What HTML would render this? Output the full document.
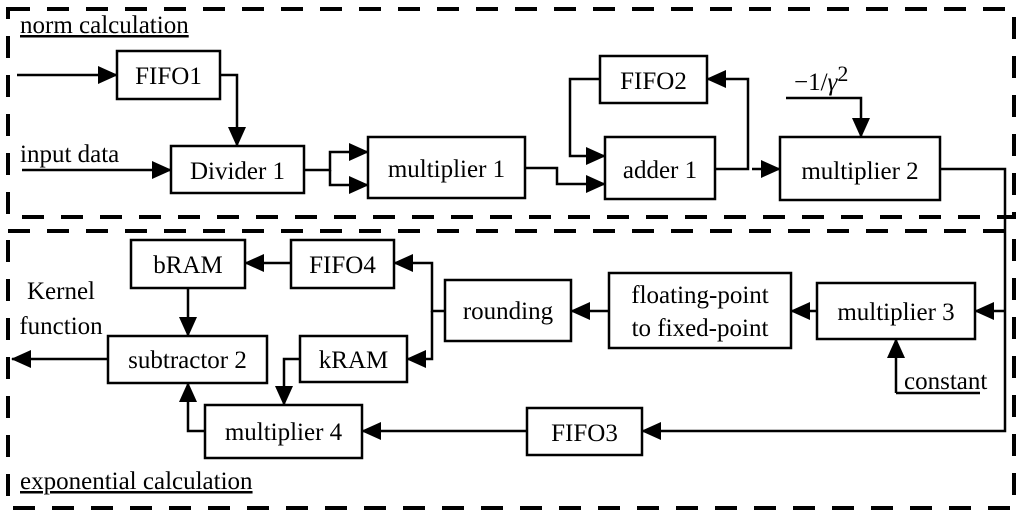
<!DOCTYPE html>
<html><head><meta charset="utf-8"><style>
html,body{margin:0;padding:0;background:#fff}
svg{display:block}
text{font-family:"Liberation Serif","Times New Roman","DejaVu Serif",serif;font-size:25px;fill:#000}
</style></head><body>
<svg width="1024" height="515" viewBox="0 0 1024 515" xmlns="http://www.w3.org/2000/svg" font-family="Liberation Serif, serif">
<defs>
<marker id="a" markerWidth="20" markerHeight="18" refX="19" refY="9" orient="auto" markerUnits="userSpaceOnUse">
<path d="M0,0 L20,9 L0,18 Z" fill="#000"/></marker>
</defs>
<g fill="none" stroke="#000" stroke-width="4" stroke-dasharray="22 17">
<rect x="8" y="9" width="1006" height="208"/>
<rect x="8" y="231" width="1006" height="277"/>
</g>
<g fill="#fff" stroke="#000" stroke-width="2.5">
<rect x="117" y="51" width="103" height="48"/>
<rect x="171" y="146" width="133" height="47"/>
<rect x="368" y="137" width="157" height="61"/>
<rect x="600" y="56" width="107" height="47"/>
<rect x="605" y="137" width="110" height="62"/>
<rect x="780" y="137" width="160" height="63"/>
<rect x="131" y="240" width="114" height="48"/>
<rect x="291" y="240" width="103" height="48"/>
<rect x="445" y="280" width="126" height="61"/>
<rect x="609" y="273" width="182" height="75"/>
<rect x="817" y="283" width="158" height="56"/>
<rect x="300" y="336" width="107" height="46"/>
<rect x="108" y="336" width="159" height="47"/>
<rect x="205" y="405" width="157" height="53"/>
<rect x="527" y="408" width="115" height="47"/>
</g>
<g fill="none" stroke="#000" stroke-width="2.5">
<path d="M17 75 H117" marker-end="url(#a)"/>
<path d="M220 75 H237 V146" marker-end="url(#a)"/>
<path d="M22 170 H171" marker-end="url(#a)"/>
<path d="M304 170 H330 V152 H368" marker-end="url(#a)"/>
<path d="M330 170 V185 H368" marker-end="url(#a)"/>
<path d="M525 168 H557 V184 H605" marker-end="url(#a)"/>
<path d="M600 79 H570 V156 H605" marker-end="url(#a)"/>
<path d="M715 169 H748 V79 H707" marker-end="url(#a)"/>
<path d="M752 169 H780" marker-end="url(#a)"/>
<path d="M786 98 H861 V137" marker-end="url(#a)"/>
<path d="M940 169 H1005 V431 H642" marker-end="url(#a)"/>
<path d="M1005 311 H975" marker-end="url(#a)"/>
<path d="M817 311 H791" marker-end="url(#a)"/>
<path d="M609 311 H571" marker-end="url(#a)"/>
<path d="M896 393 H980"/>
<path d="M896 393 V339" marker-end="url(#a)"/>
<path d="M445 311 H432 V263 H394" marker-end="url(#a)"/>
<path d="M432 311 V359 H407" marker-end="url(#a)"/>
<path d="M291 263 H245" marker-end="url(#a)"/>
<path d="M188 288 V336" marker-end="url(#a)"/>
<path d="M300 359 H284 V405" marker-end="url(#a)"/>
<path d="M527 431 H362" marker-end="url(#a)"/>
<path d="M205 431 H188 V383" marker-end="url(#a)"/>
<path d="M108 359 H12" marker-end="url(#a)"/>
</g>
<g text-anchor="middle">
<text x="168.5" y="84">FIFO1</text>
<text x="237.5" y="179">Divider 1</text>
<text x="446.5" y="177">multiplier 1</text>
<text x="653.5" y="89">FIFO2</text>
<text x="660" y="178">adder 1</text>
<text x="860" y="179">multiplier 2</text>
<text x="188" y="273">bRAM</text>
<text x="342.5" y="273">FIFO4</text>
<text x="508" y="319">rounding</text>
<text x="700" y="303">floating-point</text>
<text x="700" y="336">to fixed-point</text>
<text x="896" y="320">multiplier 3</text>
<text x="353.5" y="368">kRAM</text>
<text x="187.5" y="368">subtractor 2</text>
<text x="283.5" y="440">multiplier 4</text>
<text x="584.5" y="441">FIFO3</text>
<text x="61" y="299">Kernel</text>
<text x="61" y="334">function</text>
</g>
<text x="20" y="33" text-decoration="underline">norm calculation</text>
<text x="20" y="162">input data</text>
<text x="794" y="90">−1/<tspan font-style="italic">γ</tspan><tspan dy="-9" font-size="22">2</tspan></text>
<text x="904" y="389">constant</text>
<text x="20" y="489" text-decoration="underline">exponential calculation</text>
</svg>
</body></html>
